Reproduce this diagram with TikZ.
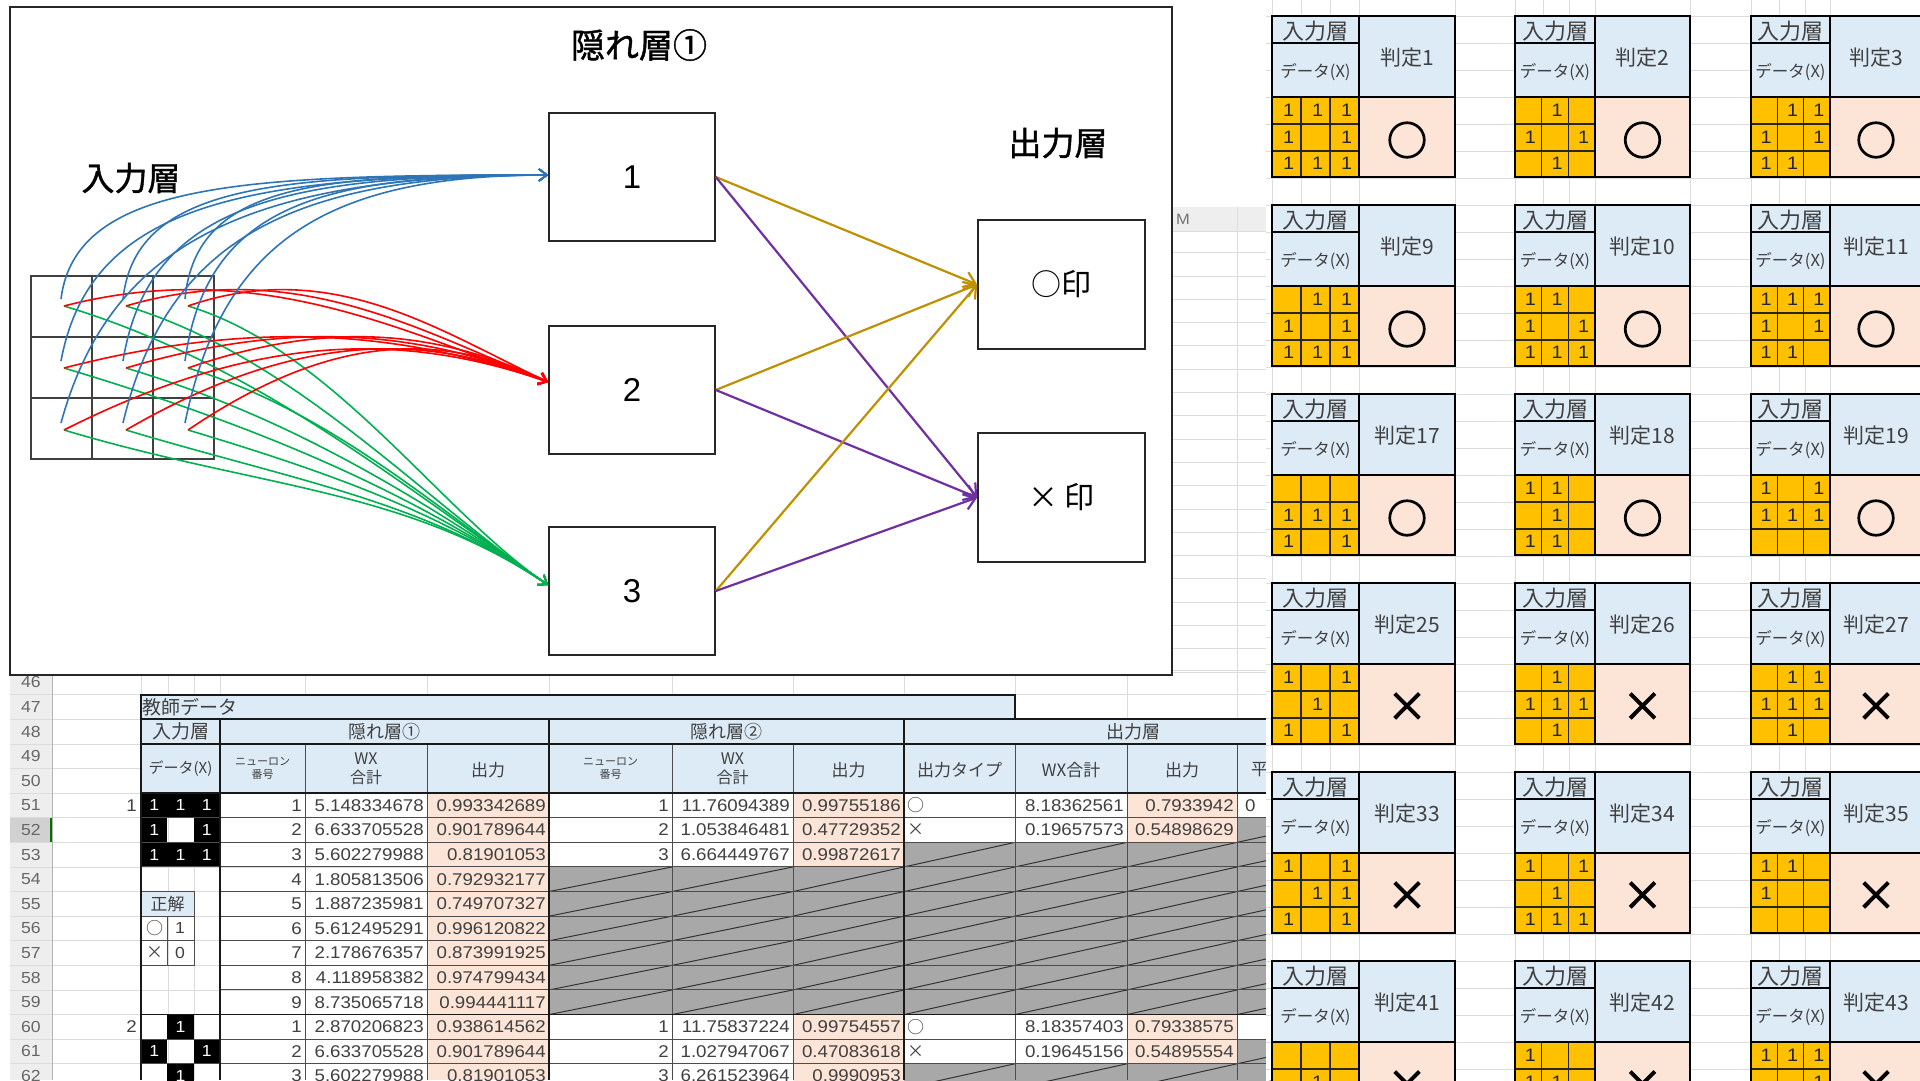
\documentclass[tikz,border=0pt]{standalone}
\usepackage{fontspec}
\setmainfont{Liberation Sans}
\newfontfamily\jp{Noto Sans CJK JP}
\newfontfamily\jpb[FakeBold=1.2]{Noto Sans CJK JP}
\newfontfamily\numf[FakeStretch=1.1]{Liberation Sans}
\newfontfamily\symf[FakeBold=3]{Noto Sans CJK JP}
\usetikzlibrary{arrows.meta}
\definecolor{hdr}{RGB}{221,235,247}
\definecolor{peach}{RGB}{252,228,214}
\definecolor{org}{RGB}{255,192,0}
\definecolor{nblue}{RGB}{46,117,182}
\definecolor{nred}{RGB}{255,0,0}
\definecolor{ngreen}{RGB}{0,176,80}
\definecolor{ngold}{RGB}{191,144,0}
\definecolor{npurp}{RGB}{112,48,160}
\definecolor{gridc}{RGB}{220,220,220}
\definecolor{rowhd}{RGB}{238,238,238}
\definecolor{shgray}{RGB}{168,168,168}
\definecolor{txt}{RGB}{64,64,64}
\newcommand\RT[1]{(694.75+(#1-47)*24.6)}
\newcommand\RC[1]{(707.05+(#1-47)*24.6)}
% #1 x0, #2 grid right, #3 card right, #4 top, #5 number, #6 pattern, #7 symbol
\newcommand\sheetcard[7]{%
  \pgfmathsetmacro\cw{(#2-#1)/3}%
  \fill[hdr] (#1,#4) rectangle (#3,#4+81);
  \fill[org] (#1,#4+81) rectangle (#2,#4+161);
  \fill[peach] (#2,#4+81) rectangle (#3,#4+161);
  \draw[cin] (#1+\cw,#4+81) -- (#1+\cw,#4+161) (#1+2*\cw,#4+81) -- (#1+2*\cw,#4+161)
    (#1,#4+108) -- (#2,#4+108) (#1,#4+135) -- (#2,#4+135);
  \draw[cout] (#1,#4+27) -- (#2,#4+27) (#1,#4+81) -- (#3,#4+81) (#2,#4) -- (#2,#4+161);
  \draw[cout] (#1,#4) rectangle (#3,#4+161);
  \node[ctx] (ka#5) at ({(#1+#2)/2},#4+15) {入力層};
  \node[cdat] (kd#5) at ({(#1+#2)/2},#4+56) {データ(X)};
  \node[ctj] (kj#5) at ({(#2+#3)/2},#4+42) {判定#5};
  \foreach \v [count=\i from 0] in {#6}{%
    \ifnum\v=1\relax
      \pgfmathtruncatemacro\rr{\i/3}%
      \pgfmathtruncatemacro\cc{mod(\i,3)}%
      \node[cnum] (g#5-\i) at ({#1+(\cc+0.5)*\cw+2},{#4+81+(\rr+0.5)*26.7}) {1};
    \fi
  }
  \node[csym] (s#5) at ({(#2+#3)/2},#4+124) {#7};
}
\begin{document}
\begin{tikzpicture}[x=1pt,y=-1pt,
  sgrid/.style={draw=gridc, line width=0.8pt},
  tline/.style={draw=black!70, line width=1pt},
  kline/.style={draw=black!90, line width=1.8pt},
  diag/.style={draw=black!80, line width=1pt},
  num/.style={font=\numf\fontsize{17}{17}\selectfont, text=txt, inner sep=0pt, anchor=east},
  wnum/.style={font=\numf\fontsize{16}{16}\selectfont, text=white, inner sep=0pt},
  jtx/.style={font=\jp\fontsize{17}{19}\selectfont, text=txt, inner sep=0pt},
  jsm/.style={font=\jp\fontsize{11}{12}\selectfont, text=txt, inner sep=0pt, align=center},
  rowlab/.style={font=\numf\fontsize{16}{16}\selectfont, text=black!60, inner sep=0pt},
  cin/.style={draw=black!85, line width=1.3pt},
  cout/.style={draw=black, line width=2.2pt},
  ctx/.style={font=\jp\fontsize{22}{22}\selectfont, text=txt, inner sep=0pt},
  ctj/.style={font=\jp\fontsize{21}{21}\selectfont, text=txt, inner sep=0pt},
  cdat/.style={font=\jp\fontsize{16.5}{16.5}\selectfont, text=txt, inner sep=0pt},
  cnum/.style={font=\numf\fontsize{18}{18}\selectfont, text=black!85, inner sep=0pt},
  csym/.style={font=\symf\fontsize{40}{40}\selectfont, text=black, inner sep=0pt},
  nnbox/.style={draw=black!85, line width=1.6pt, fill=white, minimum width=166pt, minimum height=128pt, inner sep=0pt},
  conn/.style={line width=1.6pt, -{Straight Barb[length=8pt,width=12pt]}},
  arr/.style={line width=2.2pt, -{Straight Barb[length=11pt,width=16pt]}},
  ttl/.style={font=\jpb\fontsize{33}{33}\selectfont, inner sep=0pt}]
\useasboundingbox (0,0) rectangle (1920,1080);
\clip (0,0) rectangle (1920,1080);
\fill[white] (0,0) rectangle (1920,1080);

% ---------- sheet faint grid ----------
\foreach \x in {52,141,168,194,220,305,427,549,672,793,904,1015,1127,1237}
  \draw[sgrid] (\x,207) -- (\x,1080);
\foreach \k in {0,...,18} \draw[sgrid] (1172,{672-23.3*\k}) -- (1266,{672-23.3*\k});
\foreach \r in {46,...,63} \draw[sgrid] (52,{\RT{\r}}) -- (1266,{\RT{\r}});
% column header M
\fill[rowhd] (1172,207) rectangle (1266,231);
\draw[sgrid] (1172,231) -- (1266,231) (1237,207) -- (1237,231);
\node[font=\numf\fontsize{15}{15}\selectfont, text=black!55, anchor=west, inner sep=0pt] (colM) at (1176,219) {M};

% ---------- row header ----------
\fill[rowhd] (10,{\RT{46}}) rectangle (52,1080);
\fill[black!18] (10,{\RT{52}}) rectangle (52,{\RT{53}});
\foreach \r in {46,...,63} \draw[sgrid] (10,{\RT{\r}}) -- (52,{\RT{\r}});
\draw[draw=black!30, line width=1pt] (52,{\RT{46}}) -- (52,1080);
\draw[draw=green!45!black, line width=2pt] (51,{\RT{52}}) -- (51,{\RT{53}});
\foreach \r in {46,...,62} \node[rowlab] (rl\r) at (31,{\RC{\r}}) {\r};

% ---------- table fills ----------
\fill[hdr] (141,{\RT{47}}) rectangle (1015,{\RT{48}});
\fill[hdr] (141,{\RT{48}}) rectangle (1266,{\RT{51}});
\fill[peach] (427,{\RT{51}}) rectangle (549,1080);
\fill[peach] (793,{\RT{51}}) rectangle (904,{\RT{54}});
\fill[peach] (793,{\RT{60}}) rectangle (904,{\RT{63}});
\fill[peach] (1127,{\RT{51}}) rectangle (1237,{\RT{53}});
\fill[peach] (1127,{\RT{60}}) rectangle (1237,{\RT{62}});
\foreach \xa/\xb in {549/672,672/793,793/904}{\foreach \r in {54,...,59}{
  \fill[shgray] (\xa,{\RT{\r}}) rectangle (\xb,{\RT{\r}+24.6});
  \draw[diag] (\xa,{\RT{\r}+24.6}) -- (\xb,{\RT{\r}});}}
\foreach \xa/\xb in {904/1015,1015/1127,1127/1237}{\foreach \r in {53,...,59,62}{
  \fill[shgray] (\xa,{\RT{\r}}) rectangle (\xb,{\RT{\r}+24.6});
  \draw[diag] (\xa,{\RT{\r}+24.6}) -- (\xb,{\RT{\r}});}}
\foreach \r in {52,...,59,61,62}{
  \fill[shgray] (1237,{\RT{\r}}) rectangle (1266,{\RT{\r}+24.6});
  \draw[diag] (1237,{\RT{\r}+24.6}) -- (1350,{\RT{\r}});}
% input cells
\foreach \r/\c in {51/0,51/1,51/2,52/0,52/2,53/0,53/1,53/2,60/1,61/0,61/2,62/1}{
  \fill[black] ({141+\c*26.33},{\RT{\r}}) rectangle ({141+(\c+1)*26.33},{\RT{\r}+24.6});
  \node[wnum] (bk\r\c) at ({141+(\c+0.5)*26.33},{\RC{\r}}) {1};}
% answer key
\fill[hdr] (141,{\RT{55}}) rectangle (194,{\RT{56}});
\draw[tline] (141,{\RT{55}}) rectangle (194,{\RT{58}});
\draw[tline] (141,{\RT{56}}) -- (194,{\RT{56}}) (141,{\RT{57}}) -- (194,{\RT{57}}) (167.5,{\RT{56}}) -- (167.5,{\RT{58}});
\node[jtx] (sk) at (167.5,{\RC{55}}) {正解};
\node[jtx] (sko) at (154.5,{\RC{56}}) {○};
\node[font=\numf\fontsize{16}{16}\selectfont, text=txt, inner sep=0pt] (sk1) at (180,{\RC{56}}) {1};
\node[jtx] (skx) at (154.5,{\RC{57}}) {×};
\node[font=\numf\fontsize{16}{16}\selectfont, text=txt, inner sep=0pt] (sk0) at (180,{\RC{57}}) {0};

% ---------- table borders ----------
\foreach \r in {52,...,59,61,62,63} \draw[tline] (220,{\RT{\r}}) -- (1266,{\RT{\r}});
\foreach \r in {52,53,54,61,62} \draw[tline] (141,{\RT{\r}}) -- (220,{\RT{\r}});
\foreach \x in {305,427,672,793,1015,1127,1237} \draw[tline] (\x,{\RT{49}}) -- (\x,1080);
\draw[kline] (141,{\RT{47}}) rectangle (1015,{\RT{48}});
\draw[kline] (141,{\RT{48}}) -- (1266,{\RT{48}});
\draw[kline] (141,{\RT{49}}) -- (1266,{\RT{49}});
\draw[kline] (141,{\RT{51}}) -- (1266,{\RT{51}});
\draw[kline] (141,{\RT{60}}) -- (1266,{\RT{60}});
\foreach \x in {141,220,549,904} \draw[kline] (\x,{\RT{48}}) -- (\x,1080);

% ---------- table headers ----------
\node[jtx, anchor=west, font=\jp\fontsize{19}{19}\selectfont] (th0) at (142,{\RC{47}}) {教師データ};
\node[jtx, font=\jp\fontsize{19}{19}\selectfont] (th1) at (180.5,{\RC{48}}) {入力層};
\node[jtx, font=\jp\fontsize{18}{18}\selectfont] (th2) at (384.5,{\RC{48}}) {隠れ層①};
\node[jtx, font=\jp\fontsize{18}{18}\selectfont] (th3) at (726.5,{\RC{48}}) {隠れ層②};
\node[jtx, font=\jp\fontsize{18}{18}\selectfont] (th4) at (1133,{\RC{48}}) {出力層};
\node[jtx, font=\jp\fontsize{15}{15}\selectfont] (hd1) at (180.5,768.5) {データ(X)};
\node[jsm] (hd2) at (262.5,768.5) {ニューロン\\[1pt]番号};
\node[jtx, align=center, font=\jp\fontsize{16}{19}\selectfont] (hd3) at (366,768.5) {WX\\合計};
\node[jtx] (hd4) at (488,770) {出力};
\node[jsm] (hd5) at (610.5,768.5) {ニューロン\\[1pt]番号};
\node[jtx, align=center, font=\jp\fontsize{16}{19}\selectfont] (hd6) at (732.5,768.5) {WX\\合計};
\node[jtx] (hd7) at (848.5,770) {出力};
\node[jtx] (hd8) at (959.5,770) {出力タイプ};
\node[jtx] (hd9) at (1071,770) {WX合計};
\node[jtx] (hd10) at (1182,770) {出力};
\node[jtx, anchor=west] (hd11) at (1251,770) {平};

% ---------- table data ----------
\node[num] (ca1) at (137,{\RC{51}}) {1};
\node[num] (ca2) at (137,{\RC{60}}) {2};
\foreach \r/\n/\w/\o in {51/1/5.148334678/0.993342689,52/2/6.633705528/0.901789644,53/3/5.602279988/0.81901053,54/4/1.805813506/0.792932177,55/5/1.887235981/0.749707327,56/6/5.612495291/0.996120822,57/7/2.178676357/0.873991925,58/8/4.118958382/0.974799434,59/9/8.735065718/0.994441117,60/1/2.870206823/0.938614562,61/2/6.633705528/0.901789644,62/3/5.602279988/0.81901053}{
  \node[num] (an\r) at (302,{\RC{\r}}) {\n};
  \node[num] (aw\r) at (424,{\RC{\r}}) {\w};
  \node[num] (ao\r) at (546,{\RC{\r}}) {\o};}
\foreach \r/\n/\w/\o in {51/1/11.76094389/0.99755186,52/2/1.053846481/0.47729352,53/3/6.664449767/0.99872617,60/1/11.75837224/0.99754557,61/2/1.027947067/0.47083618,62/3/6.261523964/0.9990953}{
  \node[num] (bn\r) at (669,{\RC{\r}}) {\n};
  \node[num] (bw\r) at (790,{\RC{\r}}) {\w};
  \node[num] (bo\r) at (901,{\RC{\r}}) {\o};}
\foreach \r/\t/\w/\o in {51/○/8.18362561/0.7933942,52/×/0.19657573/0.54898629,60/○/8.18357403/0.79338575,61/×/0.19645156/0.54895554}{
  \node[jtx, anchor=west] (ct\r) at (907,{\RC{\r}}) {\t};
  \node[num] (cw\r) at (1124,{\RC{\r}}) {\w};
  \node[num] (co\r) at (1234,{\RC{\r}}) {\o};}
\node[num, anchor=west] (cz51) at (1245,{\RC{51}}) {0};

% ---------- judgement cards ----------
\fill[white] (1266,0) rectangle (1920,1080);
\foreach \x in {1272,1301,1330,1359,1455,1515,1543,1569,1595,1690,1751,1779,1805,1830}
  \draw[sgrid] (\x,0) -- (\x,1080);
\foreach \k in {0,...,39} \draw[sgrid] (1266,{16+27*\k}) -- (1920,{16+27*\k});
\sheetcard{1272}{1359}{1455}{16}{1}{1,1,1,1,0,1,1,1,1}{○}
\sheetcard{1515}{1595}{1690}{16}{2}{0,1,0,1,0,1,0,1,0}{○}
\sheetcard{1751}{1830}{1922}{16}{3}{0,1,1,1,0,1,1,1,0}{○}
\sheetcard{1272}{1359}{1455}{205}{9}{0,1,1,1,0,1,1,1,1}{○}
\sheetcard{1515}{1595}{1690}{205}{10}{1,1,0,1,0,1,1,1,1}{○}
\sheetcard{1751}{1830}{1922}{205}{11}{1,1,1,1,0,1,1,1,0}{○}
\sheetcard{1272}{1359}{1455}{394}{17}{0,0,0,1,1,1,1,0,1}{○}
\sheetcard{1515}{1595}{1690}{394}{18}{1,1,0,0,1,0,1,1,0}{○}
\sheetcard{1751}{1830}{1922}{394}{19}{1,0,1,1,1,1,0,0,0}{○}
\sheetcard{1272}{1359}{1455}{583}{25}{1,0,1,0,1,0,1,0,1}{×}
\sheetcard{1515}{1595}{1690}{583}{26}{0,1,0,1,1,1,0,1,0}{×}
\sheetcard{1751}{1830}{1922}{583}{27}{0,1,1,1,1,1,0,1,0}{×}
\sheetcard{1272}{1359}{1455}{772}{33}{1,0,1,0,1,1,1,0,1}{×}
\sheetcard{1515}{1595}{1690}{772}{34}{1,0,1,0,1,0,1,1,1}{×}
\sheetcard{1751}{1830}{1922}{772}{35}{1,1,0,1,0,0,0,0,0}{×}
\sheetcard{1272}{1359}{1455}{961}{41}{0,0,0,0,1,0,0,0,0}{×}
\sheetcard{1515}{1595}{1690}{961}{42}{1,0,0,1,1,0,0,0,0}{×}
\sheetcard{1751}{1830}{1922}{961}{43}{1,1,1,0,0,1,0,0,0}{×}

% ---------- network panel ----------
\draw[line width=1.5pt, draw=black!85, fill=white] (10,7) rectangle (1172,675);
\draw[draw=black!75, line width=1.2pt] (31,276) rectangle (214,459)
  (92,276) -- (92,459) (153,276) -- (153,459) (31,337) -- (214,337) (31,398) -- (214,398);
\node[ttl] (tin) at (131,178) {入力層};
\node[ttl, font=\jpb\fontsize{34}{34}\selectfont] (thid) at (639,45) {隠れ層①};
\node[ttl] (tout) at (1058,143) {出力層};
\node[nnbox, font=\fontsize{33}{33}\selectfont] (h1) at (632,177) {1};
\node[nnbox, font=\fontsize{33}{33}\selectfont] (h2) at (632,390) {2};
\node[nnbox, font=\fontsize{33}{33}\selectfont] (h3) at (632,591) {3};
\node[nnbox, minimum width=167pt, minimum height=129pt, font=\jp\fontsize{30}{30}\selectfont] (o) at (1061.5,284.5) {○印};
\node[nnbox, minimum width=167pt, minimum height=129pt, font=\jp\fontsize{30}{30}\selectfont] (x) at (1061.5,497.5) {× 印};
\foreach \r in {1,2,3}{\foreach \c in {1,2,3}{
  \coordinate (in\r\c) at ({62+62*(\c-1)},{302+62*(\r-1)});}}
% green
\foreach \r in {1,2,3}{\foreach \c in {1,2,3}{%
  \pgfmathsetmacro\sx{64+62*(\c-1)}%
  \pgfmathsetmacro\sy{306+62*(\r-1)}%
  \pgfmathsetmacro\dx{549-\sx}%
  \pgfmathsetmacro\ax{\sx+0.4*\dx}%
  \pgfmathsetmacro\ay{\sy+0.12*\dx}%
  \pgfmathsetmacro\bx{549-0.3*\dx}%
  \pgfmathsetmacro\by{585-0.2*\dx}%
  \draw[conn,ngreen] ([shift={(2,4)}]in\r\c) .. controls (\ax,\ay) and (\bx,\by) .. ([yshift=6pt]h3.west);}}
% red
\foreach \r in {1,2,3}{\foreach \c in {1,2,3}{%
  \pgfmathsetmacro\sx{64+62*(\c-1)}%
  \pgfmathsetmacro\sy{306+62*(\r-1)}%
  \pgfmathsetmacro\dx{549-\sx}%
  \pgfmathsetmacro\ax{\sx+0.4*\dx}%
  \pgfmathsetmacro\ay{min(\sy,382)-50}%
  \pgfmathsetmacro\bx{549-0.3*\dx}%
  \draw[conn,nred] ([shift={(2,4)}]in\r\c) .. controls (\ax,\ay) and (\bx,332) .. ([yshift=8pt]h2.west);}}
% blue
\foreach \r/\kx/\ky in {1/0.03/0.95,2/0.06/0.85,3/0.1/0.72}{\foreach \c in {1,2,3}{%
  \pgfmathsetmacro\sx{61+62*(\c-1)}%
  \pgfmathsetmacro\sy{299+62*(\r-1)}%
  \pgfmathsetmacro\ax{\sx+\kx*(549-\sx)}%
  \pgfmathsetmacro\ay{\sy-\ky*(\sy-175)}%
  \pgfmathsetmacro\bx{549-0.62*(549-\sx)}%
  \draw[conn,nblue] ([shift={(-1,-3)}]in\r\c) .. controls (\ax,\ay) and (\bx,175) .. ([yshift=2pt]h1.west);}}
% hidden -> output
\foreach \h in {h1,h2,h3}{
  \draw[arr,ngold] (\h.east) -- (o.west);
  \draw[arr,npurp] (\h.east) -- (x.west);}
\end{tikzpicture}
\end{document}
